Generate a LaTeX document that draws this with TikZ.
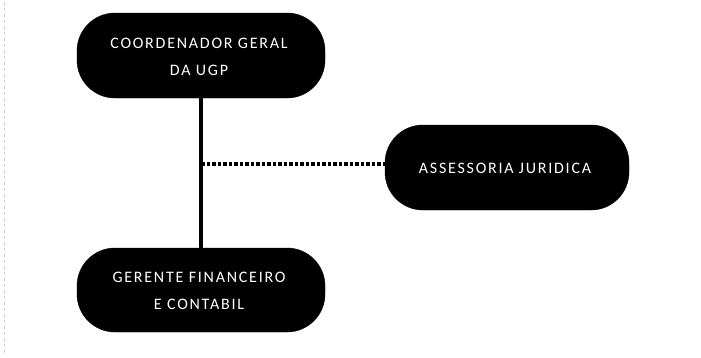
\documentclass[tikz,border=0pt]{standalone}
\usepackage{fontspec}
\setmainfont{Carlito}
\newfontfamily\boxfont[LetterSpace=11]{Carlito}
\begin{document}
\begin{tikzpicture}[x=1pt,y=-1pt,
  pill/.style={fill=black,draw=black,rounded corners=38pt,text=white,
    font=\boxfont\fontsize{16}{27}\selectfont,align=center,inner sep=0pt},
  solidline/.style={line width=4pt},
  dotline/.style={line width=4pt,dash pattern=on 3.5pt off 2pt}]
\useasboundingbox (0,0) rectangle (701,357);
\fill[white] (0,0) rectangle (701,357);
\draw[gray!40,line width=0.8pt,dash pattern=on 3pt off 3pt] (4,2) -- (4,355);
\draw[pill] (77,13) rectangle (325,98);
\node[pill,fill=none,draw=none] (top) at (199,57) {COORDENADOR GERAL\\DA UGP};
\draw[pill] (77,248) rectangle (325,332);
\node[pill,fill=none,draw=none] (bot) at (199,291) {GERENTE FINANCEIRO\\E CONTABIL};
\draw[pill] (385,125) rectangle (629,210);
\node[pill,fill=none,draw=none] (ass) at (505,168) {ASSESSORIA JURIDICA};
\coordinate (tb) at (201,98);
\coordinate (bt) at (201,248);
\coordinate (mid) at (201,164);
\coordinate (al) at (385,164);
\draw[solidline] (tb) -- (bt);
\draw[dotline] (mid) -- (al);
\end{tikzpicture}
\end{document}
